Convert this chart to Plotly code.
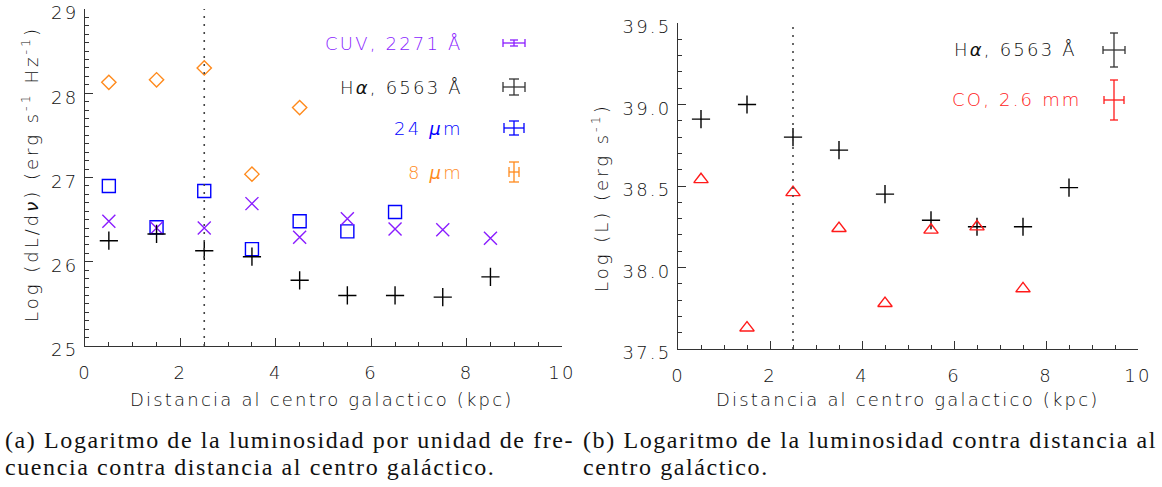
import plotly.graph_objects as go

W, H = 1162, 487

# ---------------- data ----------------
r_kpc = [0.5, 1.5, 2.5, 3.5, 4.5, 5.5, 6.5, 7.5, 8.5]
cuv_2271 = [26.48, 26.40, 26.40, 26.69, 26.29, 26.51, 26.39, 26.38, 26.28]
halpha_lnu = [26.25, 26.33, 26.13, 26.06, 25.78, 25.60, 25.60, 25.58, 25.82]
mips_24 = [26.90, 26.41, 26.84, 26.15, 26.48, 26.36, 26.59]
irac_8 = [28.13, 28.16, 28.30, 27.04, 27.83]
halpha_L = [38.91, 39.00, 38.80, 38.72, 38.45, 38.29, 38.25, 38.25, 38.49]
co_L = [38.54, 37.63, 38.46, 38.24, 37.78, 38.23, 38.25, 37.87]
r_break = 2.5

x_ticks = [0, 2, 4, 6, 8, 10]
yl_ticks = [25, 26, 27, 28, 29]
yr_ticks = [37.5, 38.0, 38.5, 39.0, 39.5]

# ---------------- style ----------------
PURPLE = "#8a1dff"
BLUE = "#0000ff"
ORANGE = "#ff8a1c"
RED = "#ff1a1a"
BLACK = "#000000"
AXC = "#333333"
TXT = "#111111"
SANS = "DejaVu Sans"
SERIF = "Liberation Serif"
LS = 2.2  # letter spacing for the wide plot font


def sp(t, ls=LS):
    return f'<span style="letter-spacing:{ls}px">{t}</span>'


def px(x):
    return x / W


def py(y):
    return 1 - y / H


fig = go.Figure()


def mk(symbol, size, color):
    return dict(symbol=symbol, size=size, color=color, line=dict(color=color, width=1.4))


fig.add_trace(go.Scatter(x=r_kpc[:len(irac_8)], y=irac_8, mode="markers",
                         marker=mk("diamond-open", 11, ORANGE), xaxis="x", yaxis="y"))
fig.add_trace(go.Scatter(x=r_kpc[:len(mips_24)], y=mips_24, mode="markers",
                         marker=mk("square-open", 13, BLUE), xaxis="x", yaxis="y"))
fig.add_trace(go.Scatter(x=r_kpc, y=cuv_2271, mode="markers",
                         marker=mk("x-thin-open", 13, PURPLE), xaxis="x", yaxis="y"))
fig.add_trace(go.Scatter(x=r_kpc, y=halpha_lnu, mode="markers",
                         marker=mk("cross-thin-open", 13, BLACK), xaxis="x", yaxis="y"))

fig.add_trace(go.Scatter(x=r_kpc, y=halpha_L, mode="markers",
                         marker=mk("cross-thin-open", 13, BLACK), xaxis="x2", yaxis="y2"))
fig.add_trace(go.Scatter(x=r_kpc[:len(co_L)], y=co_L, mode="markers",
                         marker=mk("triangle-up-open", 12.5, RED), xaxis="x2", yaxis="y2"))

tickfont = dict(family=SANS, size=18, color=TXT, weight=300)


def xaxis(domain, anchor):
    return dict(domain=domain, anchor=anchor, range=[0, 10], automargin=False,
                tickvals=x_ticks, ticktext=[sp(str(v)) for v in x_ticks],
                ticklabeloverflow="allow",
                showgrid=False, zeroline=False, showline=True, linecolor=AXC, linewidth=1,
                ticks="inside", ticklen=8, tickcolor=AXC, tickwidth=1,
                minor=dict(dtick=0.5, tick0=0, ticks="inside", ticklen=4, tickcolor=AXC),
                tickfont=tickfont, ticklabelstandoff=10)


def yaxis(domain, anchor, rng, vals, fmt):
    return dict(domain=domain, anchor=anchor, range=rng, automargin=False,
                tickvals=vals, ticktext=[sp(format(v, fmt)) for v in vals],
                ticklabeloverflow="allow", ticklabelshift=4,
                showgrid=False, zeroline=False, showline=True, linecolor=AXC, linewidth=1,
                ticks="inside", ticklen=8, tickcolor=AXC, tickwidth=1,
                minor=dict(dtick=0.1, tick0=rng[0], ticks="inside", ticklen=4, tickcolor=AXC),
                tickfont=tickfont, ticklabelstandoff=2)


fig.update_layout(
    width=W, height=H, margin=dict(l=0, r=0, t=0, b=0, autoexpand=False),
    paper_bgcolor="white", plot_bgcolor="white", showlegend=False,
    xaxis=xaxis([px(85), px(562)], "y"),
    yaxis=yaxis([py(346), py(9)], "x", [25, 29], yl_ticks, "d"),
    xaxis2=xaxis([px(678), px(1138)], "y2"),
    yaxis2=yaxis([py(349), py(23)], "x2", [37.5, 39.5], yr_ticks, ".1f"),
)

# dotted vertical line at r_break
for xr, yr in (("x", "y domain"), ("x2", "y2 domain")):
    fig.add_shape(type="line", xref=xr, yref=yr, x0=r_break, x1=r_break, y0=0, y1=1,
                  line=dict(color="#444444", width=1.6, dash="2px,6px"))

annots = []
labfont = dict(family=SANS, size=18, color=TXT, weight=300)
# axis titles
annots.append(dict(text=sp("Distancia al centro galactico (kpc)"), x=px(322), y=py(399),
                   xanchor="center", yanchor="middle",
                   xref="paper", yref="paper", showarrow=False, font=labfont))
annots.append(dict(text=sp("Distancia al centro galactico (kpc)"), x=px(908), y=py(399),
                   xanchor="center", yanchor="middle",
                   xref="paper", yref="paper", showarrow=False, font=labfont))
annots.append(dict(text=sp("Log (dL/d<i>ν</i>) (erg s<sup>-1</sup> Hz<sup>-1</sup>)", 3.0),
                   x=px(30), y=py(174), xanchor="center", yanchor="middle",
                   xref="paper", yref="paper", showarrow=False, textangle=-90, font=labfont))
annots.append(dict(text=sp("Log (L) (erg s<sup>-1</sup>)", 3.0), x=px(600), y=py(198),
                   xanchor="center", yanchor="middle",
                   xref="paper", yref="paper", showarrow=False, textangle=-90, font=labfont))

# legend texts
leg_left = [("CUV, 2271 Å", PURPLE, 43), ("H<i>α</i>, 6563 Å", TXT, 87),
            ("24 <i>μ</i>m", BLUE, 128), ("8 <i>μ</i>m", ORANGE, 172)]
for t, c, yy in leg_left:
    annots.append(dict(text=sp(t), x=px(465), y=py(yy), xref="paper", yref="paper",
                       xanchor="right", yanchor="middle",
                       showarrow=False, font=dict(family=SANS, size=18, color=c, weight=300)))
leg_right = [("H<i>α</i>, 6563 Å", TXT, 50, 1079), ("CO, 2.6 mm", RED, 100, 1084)]
for t, c, yy, xx in leg_right:
    annots.append(dict(text=sp(t), x=px(xx), y=py(yy), xref="paper", yref="paper",
                       xanchor="right", yanchor="middle",
                       showarrow=False, font=dict(family=SANS, size=18, color=c, weight=300)))

# captions
capfont = dict(family=SERIF, size=24, color="#111111")
caps = [("(a) Logaritmo de la luminosidad por unidad de fre-", 3, 440),
        ("cuencia contra distancia al centro galáctico.", 3, 467),
        ("(b) Logaritmo de la luminosidad contra distancia al", 581, 440),
        ("centro galáctico.", 581, 467)]
for t, xx, yy in caps:
    annots.append(dict(text=sp(t, 1.6), x=px(xx), y=py(yy), xref="paper", yref="paper",
                       xanchor="left", yanchor="middle",
                       showarrow=False, font=capfont))
fig.update_layout(annotations=annots)


# legend error-bar glyphs (cx, cy, half-width, half-height, cap) in px
def errsym(cx, cy, hw, hh, cap, color):
    segs = [(cx - hw, cy, cx + hw, cy), (cx, cy - hh, cx, cy + hh),
            (cx - hw, cy - cap, cx - hw, cy + cap), (cx + hw, cy - cap, cx + hw, cy + cap),
            (cx - cap, cy - hh, cx + cap, cy - hh), (cx - cap, cy + hh, cx + cap, cy + hh)]
    for x0, y0, x1, y1 in segs:
        fig.add_shape(type="line", xref="paper", yref="paper", x0=px(x0), x1=px(x1),
                      y0=py(y0), y1=py(y1), line=dict(color=color, width=1.3))


errsym(514, 43, 11, 3, 4, PURPLE)
errsym(514, 87, 11, 8, 5, "#333333")
errsym(514, 128, 10, 7, 5, BLUE)
errsym(514, 172, 5, 10, 5, ORANGE)
errsym(1114, 50, 11, 17, 4, "#333333")
errsym(1114, 100, 10, 20, 4, RED)

fig.write_html("out.html")
